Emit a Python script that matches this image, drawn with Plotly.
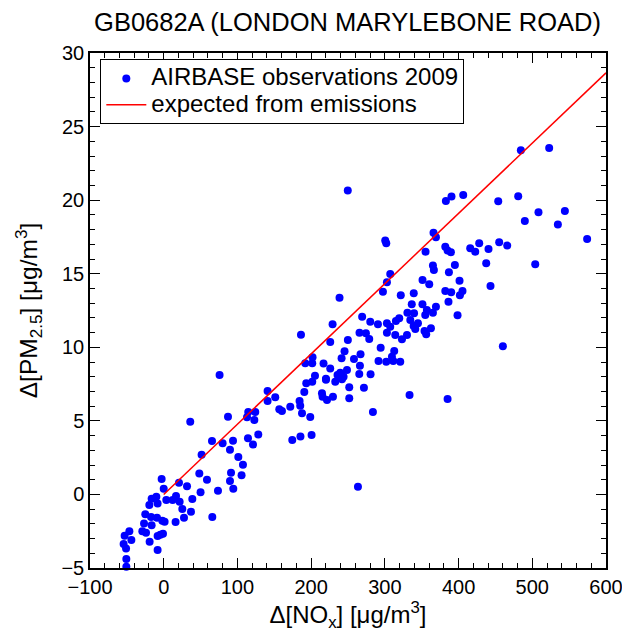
import plotly.graph_objects as go

# Observations: Delta NOx (x) and Delta PM2.5 (y)
nox = [
    36, 65.5, 79.9, 94, 114.3, 128.3, 121.1, 174.4, 185.5, 51.4,
    89.9, 101.2, 107.5, 105.6, 91.3, 89.9, 94.4, 48.3, 58.7, 73.6,
    -2.8, 0, 20.7, 31.6, 50, 38.8, 3.5, 12.1, 16.7, 21.6,
    25.2, 27.5, 37, 16.1, 65.9, -16.4, -10, -19.5, -8.3, -25,
    -17.2, -9.1, -1.9, 1.2, -26.7, -16.4, -29, -24, -8.3, -4.6,
    -1, -19.1, -8.3, -46.6, -53, -43.9, -54.4, -51.1, -50.7, -50.7,
    186.2, 225.9, 249.8, 75.8, 87.2, 114.7, 113, 124.2, 122.9, 140.9,
    140.9, 151.3, 156.8, 160.4, 171.7, 184.3, 185.2, 187.6, 198.8, 190.7,
    200.6, 193.4, 201.5, 205.2, 192, 201.5, 201.9, 216.8, 225.9, 220.1,
    214.7, 215.5, 221.5, 229.6, 232.7, 235.8, 239.5, 241.8, 241.3, 245.3,
    251.7, 251.7, 366, 369.3, 300.5, 301.9, 382, 385.1, 355.2, 365.2,
    366.5, 386.9, 307.3, 302.8, 297.4, 351.1, 360.2, 382, 386.3, 238.5,
    321.6, 339.2, 336.5, 351, 369.3, 357, 330.6, 339.6, 354.8, 365.2,
    319.5, 315, 334.5, 339, 344.9, 362.5, 353.8, 356.1, 330, 341.3,
    302.8, 307.3, 290.6, 280.2, 269.2, 302.8, 314.1, 323.2, 274.3, 265.6,
    278.8, 229.1, 258.1, 267, 266.2, 294.3, 312.7, 309.6, 311.4, 291.4,
    301.9, 320.9, 248.6, 238.5, 244, 265.3, 280.6, 271.6, 333.5, 385.1,
    283.8, 484.5, 522.9, 382.8, 390.4, 406.3, 453.8, 480.9, 508.4, 544.2,
    489.9, 534.7, 574.4, 428, 415.8, 422.6, 440.6, 455.1, 466, 389.6,
    437.5, 504, 395, 401.3, 443.3, 390, 405.3, 401.8, 398.6, 460.1,
    263.5, 249.7, 220.1,
]
pm25 = [
    4.94, 3.63, 3.47, 3.65, 3.81, 4.08, 3.40, 3.70, 3.93, 2.70,
    3.04, 2.54, 2.02, 1.30, 1.48, 0.91, 0.39, 1.43, 1.00, 0.25,
    1.05, 0.39, 0.80, 0.55, 0.14, -0.31, -0.38, -0.38, -0.11, -0.49,
    -0.99, -1.58, -1.17, -1.88, -1.54, -0.29, -0.16, -0.72, -0.61, -1.35,
    -1.54, -1.58, -1.79, -1.85, -1.97, -2.10, -2.51, -2.60, -2.83, -2.74,
    -2.67, -3.21, -3.78, -2.51, -2.81, -3.10, -3.37, -3.67, -4.39, -4.91,
    10.86, 10.36, 10.50, 8.12, 5.28, 5.60, 5.24, 5.60, 5.06, 7.03,
    6.35, 6.60, 5.79, 5.67, 5.96, 6.35, 6.03, 5.51, 5.26, 6.96,
    4.04, 7.55, 7.66, 8.07, 8.91, 8.91, 9.32, 8.89, 8.55, 7.87,
    6.87, 6.64, 6.42, 6.64, 7.66, 8.12, 8.27, 7.82, 9.25, 9.73,
    7.28, 6.53, 17.79, 17.48, 17.25, 17.07, 16.84, 16.57, 16.50, 15.55,
    15.25, 15.10, 14.98, 14.42, 13.78, 14.58, 14.28, 13.83, 13.10, 13.37,
    13.53, 13.67, 12.92, 12.92, 12.76, 12.54, 12.35, 12.31, 12.20, 12.35,
    11.97, 11.79, 11.86, 11.45, 11.63, 11.29, 11.11, 10.88, 10.84, 11.24,
    11.63, 11.40, 11.56, 11.74, 12.08, 10.99, 10.84, 10.54, 10.95, 10.99,
    10.56, 11.56, 9.20, 9.52, 8.75, 9.97, 9.75, 9.36, 9.07, 9.07,
    9.02, 9.02, 8.46, 8.00, 8.00, 8.18, 8.16, 7.25, 6.76, 6.49,
    5.60, 23.39, 23.55, 19.94, 20.24, 20.35, 19.93, 20.26, 19.18, 19.27,
    18.59, 18.34, 17.36, 17.07, 16.73, 16.50, 16.68, 17.14, 16.91, 16.46,
    15.71, 15.64, 15.60, 14.53, 14.17, 13.74, 13.83, 13.53, 12.18, 10.07,
    0.52, 20.66, 7.80,
]

# Expected from emissions (straight line)
line_nox = [0, 600]
line_pm25 = [0, 28.65]

x_ticks = [-100, 0, 100, 200, 300, 400, 500, 600]
y_ticks = [-5, 0, 5, 10, 15, 20, 25, 30]


def fmt(v):
    return str(v).replace("-", "\u2212")


FONT = "Liberation Sans, Arial, Helvetica, sans-serif"

fig = go.Figure()
fig.add_trace(go.Scatter(
    x=nox, y=pm25, mode="markers",
    name='<span style="font-size:24px">AIRBASE observations 2009</span>',
    marker=dict(color="#0000ff", size=8, line=dict(width=0)),
    cliponaxis=False,
))
fig.add_trace(go.Scatter(
    x=line_nox, y=line_pm25, mode="lines",
    name='<span style="font-size:24px">expected from emissions</span>',
    line=dict(color="#ff0000", width=1.5),
))

axis_common = dict(
    showgrid=False, zeroline=False, showline=True, linecolor="black",
    linewidth=1.5, mirror="ticks", ticks="inside", ticklen=10, tickwidth=1.2,
    tickcolor="black", tickfont=dict(size=20, color="black", family=FONT),
)

# the page body adds an 8px offset, so the figure is 622x632 inside a 630x640 window
fig.update_layout(
    width=622, height=632,
    margin=dict(l=82, r=24, t=45, b=72, autoexpand=False),
    paper_bgcolor="white", plot_bgcolor="white",
    font=dict(family=FONT, color="black"),
    title=dict(text="GB0682A (LONDON MARYLEBONE ROAD)", x=0.5458, xanchor="center",
               y=0.978, yanchor="middle", font=dict(size=25.5, color="black")),
    showlegend=True,
    legend=dict(x=0.02, y=0.988, xanchor="left", yanchor="top",
                bordercolor="black", borderwidth=1, bgcolor="white",
                font=dict(size=18, color="black"), tracegroupgap=0,
                itemwidth=40),
    xaxis=dict(range=[-100, 600], tickvals=x_ticks, ticktext=[fmt(v) for v in x_ticks],
               minor=dict(ticks="inside", ticklen=5, dtick=20, tickcolor="black"),
               title=dict(text="Δ[NO<sub>x</sub>] [μg/m<sup>3</sup>]", font=dict(size=24), standoff=8),
               **axis_common),
    yaxis=dict(range=[-5, 30], tickvals=y_ticks, ticktext=[fmt(v) for v in y_ticks],
               minor=dict(ticks="inside", ticklen=5, dtick=1, tickcolor="black"),
               title=dict(text="Δ[PM<sub>2.5</sub>] [μg/m<sup>3</sup>]", font=dict(size=24.5), standoff=17),
               **axis_common),
)

fig.write_html("out.html")
